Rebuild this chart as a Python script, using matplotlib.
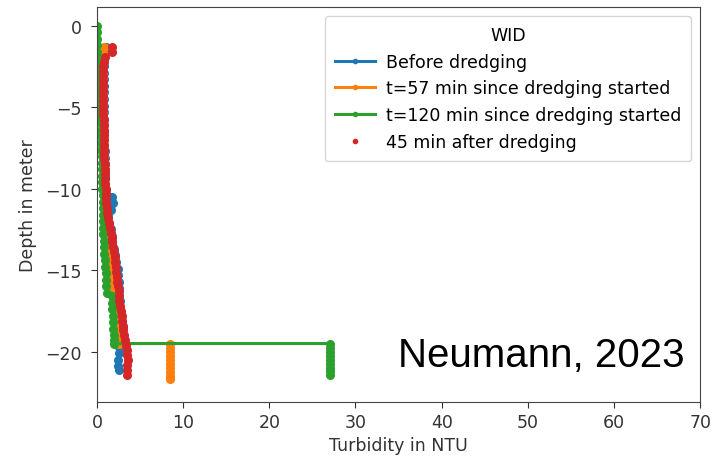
import matplotlib.pyplot as plt

# turbidity profiles (NTU) against depth (m)
depth_before = [-1.3, -1.7, -2.1, -2.5, -2.9, -3.3, -3.7, -4.1, -4.5, -4.9,
                -5.3, -5.7, -6.1, -6.5, -6.9, -7.3, -7.7, -8.1, -8.5, -8.9,
                -9.3, -9.7, -10.1, -10.5, -10.9, -11.3, -11.7, -12.1, -12.5, -12.9,
                -13.3, -13.7, -14.1, -14.5, -14.9, -15.3, -15.7, -16.1, -16.5, -16.9,
                -17.3, -17.7, -18.1, -18.5, -18.9, -19.3, -19.7, -20.1, -20.5, -20.9,
                -21.1]
turb_before = [1.0, 0.9, 0.85, 0.85, 0.8, 0.8, 0.8, 0.8, 0.8, 0.8,
               0.8, 0.8, 0.85, 0.85, 0.85, 0.85, 0.9, 0.9, 0.9, 0.9,
               0.95, 0.95, 1.0, 1.8, 1.9, 1.6, 1.3, 1.4, 1.6, 1.7,
               1.8, 2.0, 2.1, 2.2, 2.4, 2.4, 2.5, 2.5, 2.6, 2.7,
               2.7, 2.8, 2.9, 3.0, 2.9, 2.8, 2.6, 2.5, 2.4, 2.4,
               2.5]

depth_t57 = [-1.3, -1.7, -2.1, -2.5, -2.9, -3.3, -3.7, -4.1, -4.5, -4.9,
             -5.3, -5.7, -6.1, -6.5, -6.9, -7.3, -7.7, -8.1, -8.5, -8.9,
             -9.3, -9.7, -10.1, -10.5, -10.9, -11.3, -11.7, -12.1, -12.5, -12.9,
             -13.3, -13.7, -14.1, -14.5, -14.9, -15.3, -15.7, -16.1, -16.5, -16.9,
             -17.3, -17.7, -18.1, -18.5, -18.9, -19.2, -19.5,
             -19.5, -19.75, -20.0, -20.25, -20.5, -20.75, -21.0, -21.25, -21.5, -21.7]
turb_t57 = [0.8, 0.75, 0.7, 0.7, 0.7, 0.7, 0.7, 0.7, 0.7, 0.7,
            0.75, 0.75, 0.75, 0.75, 0.8, 0.8, 0.8, 0.8, 0.8, 0.85,
            0.85, 0.85, 0.9, 0.9, 0.95, 1.0, 1.0, 1.1, 1.1, 1.2,
            1.3, 1.4, 1.5, 1.6, 1.7, 1.8, 1.9, 2.0, 2.0, 2.1,
            2.2, 2.3, 2.3, 2.4, 2.4, 2.5, 2.5,
            8.5, 8.5, 8.5, 8.5, 8.5, 8.5, 8.5, 8.5, 8.5, 8.5]

depth_t120 = [0.0, -0.4, -0.8, -1.2, -1.6, -2.0, -2.4, -2.8, -3.2, -3.6, -4.0,
              -4.4, -4.8, -5.2, -5.6, -6.0, -6.4, -6.8, -7.2, -7.6, -8.0,
              -8.4, -8.8, -9.2, -9.6, -10.0, -10.4, -10.8, -11.2, -11.6, -12.0,
              -12.4, -12.8, -13.2, -13.6, -14.0, -14.4, -14.8, -15.2, -15.6, -16.0,
              -16.4, -16.6, -17.0, -17.4, -17.8, -18.2, -18.6, -19.0, -19.3, -19.5,
              -19.5, -19.75, -20.0, -20.25, -20.5, -20.75, -21.0, -21.2, -21.4]
turb_t120 = [0.0, 0.0, 0.05, 0.05, 0.05, 0.1, 0.1, 0.1, 0.1, 0.1, 0.1,
             0.2, 0.3, 0.4, 0.4, 0.45, 0.5, 0.5, 0.5, 0.5, 0.55,
             0.55, 0.6, 0.6, 0.6, 0.6, 0.65, 0.65, 0.7, 0.7, 0.7,
             0.75, 0.75, 0.8, 0.8, 0.85, 0.9, 0.9, 1.0, 1.0, 1.1,
             1.2, 1.8, 1.8, 1.8, 1.9, 1.9, 1.9, 2.0, 2.0, 2.0,
             27.0, 27.0, 27.0, 27.0, 27.0, 27.0, 27.0, 27.0, 27.0]

depth_after = [-1.3, -1.6, -1.9, -2.2, -2.5, -2.8, -3.1, -3.4, -3.7, -4.0,
               -4.3, -4.6, -4.9, -5.2, -5.5, -5.8, -6.1, -6.4, -6.7, -7.0,
               -7.3, -7.6, -7.9, -8.2, -8.5, -8.8, -9.1, -9.4, -9.7,
               -10.0, -10.3, -10.6, -10.9, -11.2, -11.5, -11.8, -12.1, -12.4,
               -12.7, -13.0, -13.3, -13.6, -13.9, -14.2, -14.5, -14.8,
               -15.1, -15.4, -15.7, -16.0, -16.3, -16.6, -16.9, -17.2,
               -17.5, -17.8, -18.1, -18.4, -18.7, -19.0, -19.3, -19.6,
               -19.9, -20.2, -20.5, -20.8, -21.1, -21.4]
turb_after = [1.8, 1.75, 0.9, 0.8, 0.75, 0.75, 0.7, 0.7, 0.7, 0.7,
              0.7, 0.75, 0.75, 0.75, 0.75, 0.8, 0.8, 0.8, 0.8, 0.8,
              0.85, 0.85, 0.85, 0.85, 0.9, 0.9, 0.9, 0.95, 0.95,
              1.0, 1.0, 1.05, 1.1, 1.15, 1.2, 1.3, 1.4, 1.5,
              1.6, 1.7, 1.8, 1.9, 2.0, 2.1, 2.15, 2.2,
              2.25, 2.3, 2.35, 2.4, 2.5, 2.55, 2.6, 2.7,
              2.8, 2.85, 2.9, 3.0, 3.0, 3.1, 3.2, 3.4,
              3.5, 3.5, 3.55, 3.5, 3.5, 3.45]

plt.rcParams['font.family'] = 'DejaVu Sans'
plt.rcParams['font.size'] = 12.5

fig = plt.figure(figsize=(7.13, 4.64), dpi=100)
ax = fig.add_axes([0.136, 0.131, 0.846, 0.852])

ax.plot(turb_before, depth_before, '.-', color='tab:blue', markersize=11, linewidth=2.2, label='Before dredging')
ax.plot(turb_t57, depth_t57, '.-', color='tab:orange', markersize=11, linewidth=2.2, label='t=57 min since dredging started')
ax.plot(turb_t120, depth_t120, '.-', color='tab:green', markersize=11, linewidth=2.2, label='t=120 min since dredging started')
ax.plot(turb_after, depth_after, '.', color='tab:red', markersize=11, label='45 min after dredging')

ax.set_xlim(0, 70)
ax.set_ylim(-23.1, 1.15)
ax.set_xticks(range(0, 80, 10))
ax.set_yticks([0, -5, -10, -15, -20])
ax.set_xlabel('Turbidity in NTU', color='#333333')
ax.set_ylabel('Depth in meter', color='#333333', labelpad=6)
ax.tick_params(colors='#333333', length=4)
ax.tick_params(axis='y', pad=7)
for s in ax.spines.values():
    s.set_color('#444444')

leg = ax.legend(title='WID', loc='upper right', markerscale=0.55, handlelength=2.3,
                handletextpad=0.6, borderpad=0.6, fontsize=12.5, title_fontsize=12.5)

ax.text(0.975, 0.091, 'Neumann, 2023', transform=ax.transAxes, ha='right', va='baseline',
        fontsize=29, family='Liberation Sans', color='black')

fig.savefig('out.png', dpi=100)
